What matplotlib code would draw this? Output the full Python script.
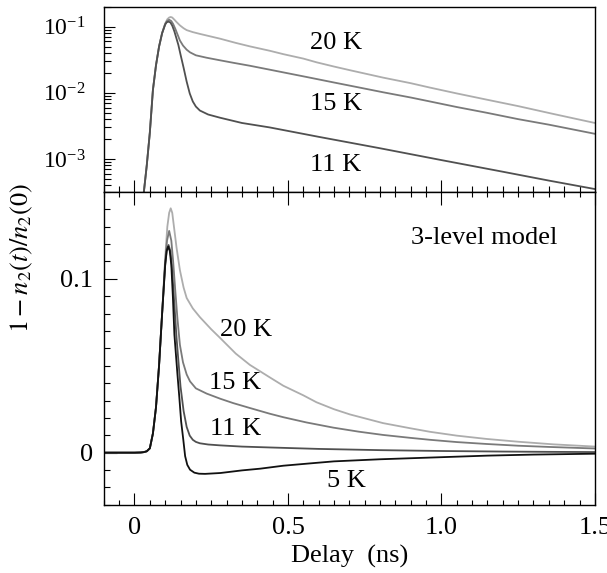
import numpy as np
import matplotlib.pyplot as plt
import matplotlib.ticker as mticker

plt.rcParams['font.family'] = 'Liberation Serif'
plt.rcParams['mathtext.fontset'] = 'stix'
plt.rcParams['font.size'] = 19

# ---- data: delay (ns) vs 1 - n2(t)/n2(0) ----
rise_t = [-0.1, 0.0, 0.02, 0.03, 0.04, 0.05, 0.06, 0.07, 0.08, 0.09]
rise_s = [0.0, 0.0, 0.0001, 0.0003, 0.0008, 0.0025, 0.011, 0.026, 0.05, 0.08]

t_5K = rise_t + [0.10, 0.105, 0.11, 0.115, 0.12, 0.125, 0.13, 0.14, 0.146, 0.152,
                 0.159, 0.165, 0.172, 0.181, 0.195, 0.21, 0.23, 0.28, 0.35, 0.41,
                 0.485, 0.57, 0.65, 0.8, 0.95, 1.15, 1.3, 1.5]
s_5K = rise_s + [0.108, 0.116, 0.1186, 0.116, 0.108, 0.09, 0.068, 0.045, 0.032, 0.018,
                 0.0075, -0.002, -0.007, -0.0098, -0.0115, -0.0121, -0.0122, -0.0117,
                 -0.0102, -0.0092, -0.0075, -0.0062, -0.005, -0.0038, -0.0029,
                 -0.0017, -0.0011, -0.0006]

t_11K = rise_t + [0.10, 0.105, 0.111, 0.117, 0.123, 0.13, 0.137, 0.143, 0.15, 0.16,
                  0.17, 0.18, 0.19, 0.2, 0.213, 0.24, 0.279, 0.35, 0.44, 0.6, 0.8,
                  1.0, 1.2, 1.35, 1.5]
s_11K = rise_s + [0.108, 0.117, 0.1195, 0.116, 0.104, 0.085, 0.066, 0.053, 0.038,
                  0.024, 0.0148, 0.0098, 0.0074, 0.0062, 0.0054, 0.0047, 0.0042,
                  0.0035, 0.0030, 0.00216, 0.00145, 0.00096, 0.00064, 0.00047, 0.00035]

t_15K = rise_t + [0.10, 0.106, 0.113, 0.12, 0.126, 0.133, 0.14, 0.148, 0.158, 0.17,
                  0.181, 0.2, 0.235, 0.28, 0.322, 0.376, 0.441, 0.485, 0.56, 0.648,
                  0.73, 0.81, 0.9, 0.963, 1.05, 1.147, 1.25, 1.35, 1.5]
s_15K = rise_s + [0.11, 0.122, 0.1276, 0.122, 0.11, 0.093, 0.077, 0.062, 0.052, 0.045,
                  0.041, 0.037, 0.034, 0.031, 0.0285, 0.0257, 0.0224, 0.0204, 0.0174,
                  0.0144, 0.0121, 0.0102, 0.0085, 0.0074, 0.0061, 0.0050, 0.0040,
                  0.0033, 0.0024]

t_20K = rise_t + [0.10, 0.107, 0.113, 0.118, 0.123, 0.13, 0.137, 0.148, 0.16, 0.17,
                  0.19, 0.213, 0.25, 0.279, 0.33, 0.376, 0.441, 0.485, 0.55, 0.593,
                  0.65, 0.702, 0.81, 0.9, 0.963, 1.05, 1.147, 1.25, 1.364, 1.5]
s_20K = rise_s + [0.112, 0.13, 0.138, 0.1406, 0.138, 0.128, 0.118, 0.105, 0.095, 0.089,
                  0.083, 0.078, 0.071, 0.066, 0.057, 0.0505, 0.0433, 0.0385, 0.033,
                  0.029, 0.025, 0.022, 0.017, 0.014, 0.012, 0.0098, 0.0079,
                  0.0063, 0.0048, 0.0035]

curves_top = [(t_20K, s_20K, '#adadad'), (t_15K, s_15K, '#7a7a7a'), (t_11K, s_11K, '#505050')]
curves_bot = [(t_20K, s_20K, '#adadad'), (t_15K, s_15K, '#7a7a7a'),
              (t_11K, s_11K, '#505050'), (t_5K, s_5K, '#111111')]

xtick_vals = [0, 0.5, 1.0, 1.5]
xtick_labels = ['0', '0.5', '1.0', '1.5']
ytick_vals = [0, 0.1]
ytick_labels = ['0', '0.1']

fig = plt.figure(figsize=(6.07, 5.73), dpi=100)
ax_top = fig.add_axes([0.171, 0.665, 0.809, 0.323])
ax_bot = fig.add_axes([0.171, 0.119, 0.809, 0.546], sharex=ax_top)

for t, s, c in curves_top:
    ax_top.plot(t, s, color=c, lw=1.3)
for t, s, c in curves_bot:
    ax_bot.plot(t, s, color=c, lw=1.3)

ax_top.set_yscale('log', nonpositive='mask')
ax_top.set_ylim(10**-3.5, 0.2)
ax_bot.set_ylim(-0.03, 0.15)
ax_bot.set_xlim(-0.1, 1.5)

ax_bot.xaxis.set_major_locator(mticker.FixedLocator(xtick_vals))
ax_bot.xaxis.set_major_formatter(mticker.FixedFormatter(xtick_labels))
ax_bot.xaxis.set_minor_locator(mticker.MultipleLocator(0.05))
ax_bot.yaxis.set_major_locator(mticker.FixedLocator(ytick_vals))
ax_bot.yaxis.set_major_formatter(mticker.FixedFormatter(ytick_labels))
ax_bot.yaxis.set_minor_locator(mticker.MultipleLocator(0.01))

ax_top.yaxis.set_major_locator(mticker.LogLocator(base=10))
ax_top.yaxis.set_minor_locator(mticker.LogLocator(base=10, subs=np.arange(2, 10)))
ax_top.yaxis.set_minor_formatter(mticker.NullFormatter())

for ax in (ax_top, ax_bot):
    for sp in ax.spines.values():
        sp.set_linewidth(1.0)
    ax.tick_params(which='both', direction='in', width=0.8, right=False)
    ax.tick_params(which='major', length=9)
    ax.tick_params(which='minor', length=4.5)

ax_top.tick_params(axis='x', which='both', bottom=True, top=False, labelbottom=False)
ax_top.tick_params(axis='y', which='major', pad=13, length=8, labelsize=17)
ax_top.tick_params(axis='y', which='minor', length=5)
ax_bot.tick_params(axis='x', which='both', bottom=True, top=True, pad=9)
ax_bot.tick_params(axis='x', which='minor', length=3.5)
ax_bot.tick_params(axis='y', pad=8)

ax_bot.set_xlabel('Delay  (ns)', labelpad=4)
fig.text(22 / 607, 1 - 258 / 573, r'$1-n_2(t)/n_2(0)$', rotation=90,
         ha='center', va='center', fontsize=19)

fig.text(336 / 607, 1 - 43 / 573, '20 K', ha='center', va='center')
fig.text(336 / 607, 1 - 104 / 573, '15 K', ha='center', va='center')
fig.text(336 / 607, 1 - 165 / 573, '11 K', ha='center', va='center')
fig.text(484 / 607, 1 - 238 / 573, '3-level model', ha='center', va='center')
fig.text(246 / 607, 1 - 330 / 573, '20 K', ha='center', va='center')
fig.text(235 / 607, 1 - 383 / 573, '15 K', ha='center', va='center')
fig.text(236 / 607, 1 - 429 / 573, '11 K', ha='center', va='center')
fig.text(346 / 607, 1 - 481 / 573, '5 K', ha='center', va='center')

fig.savefig('out.png', dpi=100)
